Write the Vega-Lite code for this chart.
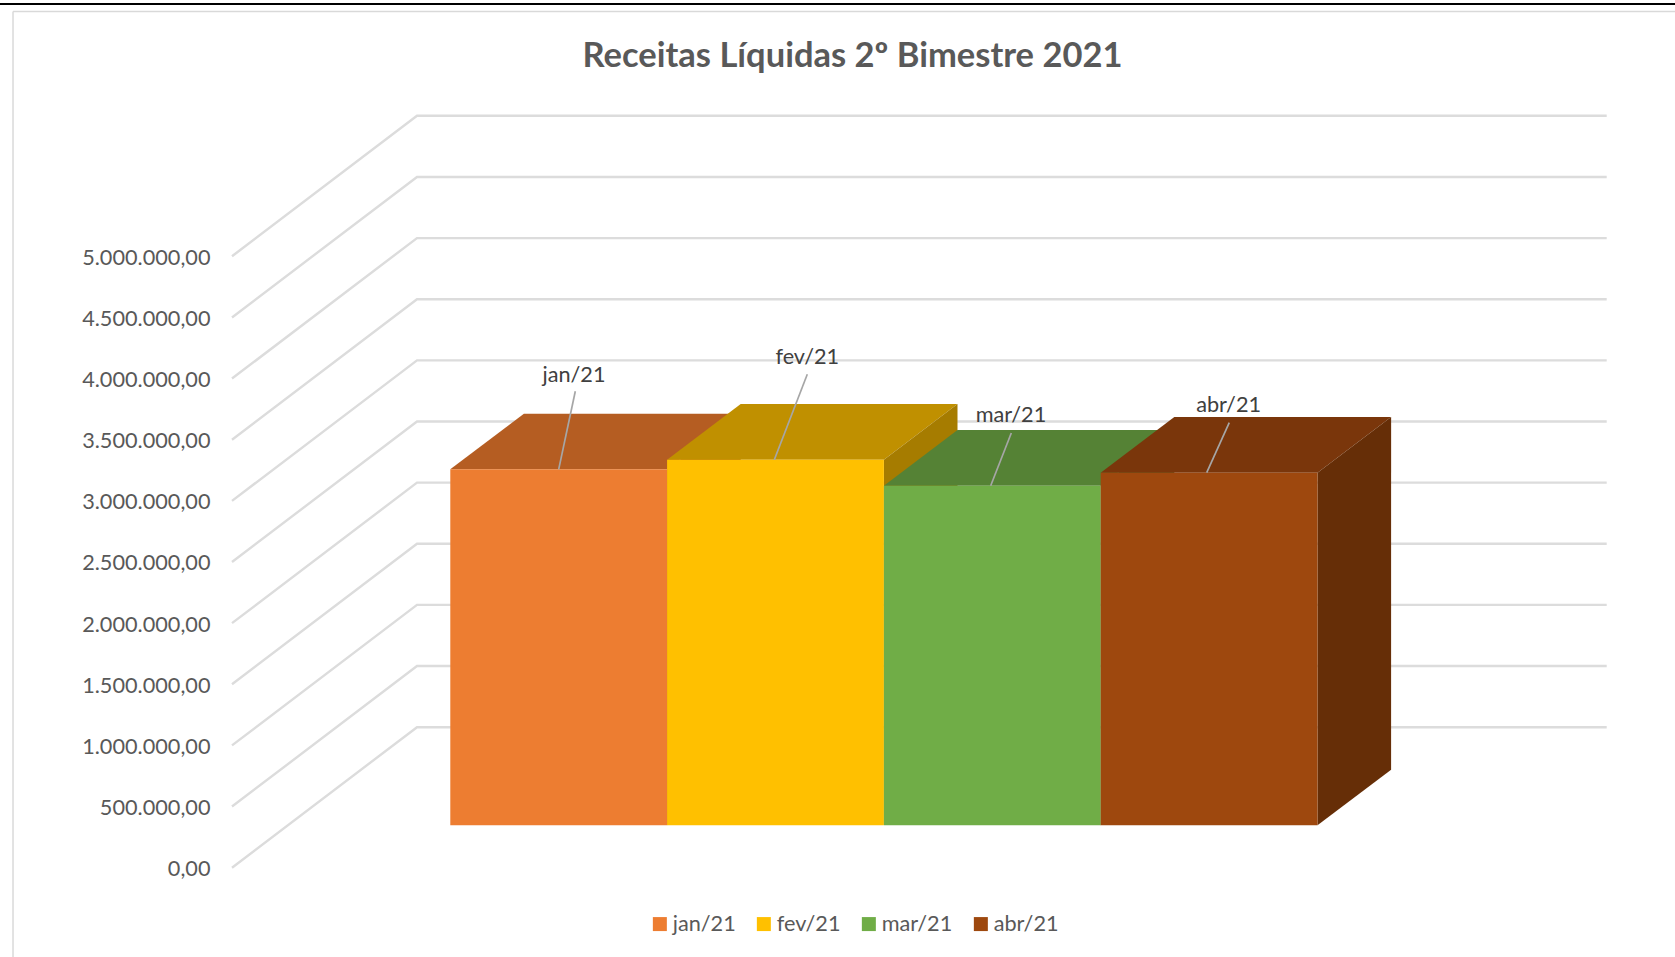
{
"$schema":"https://vega.github.io/schema/vega-lite/v6.json",
"width":1675,"height":957,"padding":0,"autosize":{"type":"none"},"background":"white",
"title":{"text":"Receitas Líquidas 2º Bimestre 2021","font":"Lato","fontSize":34.5,"fontWeight":"bold","color":"#595959","anchor":"middle","frame":"group","dx":15,"offset":-101,"baseline":"alphabetic"},
"config":{"view":{"stroke":null},"locale":{"number":{"decimal":",","thousands":".","grouping":[3],"currency":["R$ ",""]}}},
"encoding":{
"x":{"field":"x","type":"quantitative","scale":{"domain":[-2.077,5.649],"nice":false,"zero":false},"axis":null},
"y":{"field":"y","type":"quantitative","scale":{"domain":[-730300,7096000],"nice":false,"zero":false},
"axis":{"title":null,"values":[0,500000,1000000,1500000,2000000,2500000,3000000,3500000,4000000,4500000,5000000],"format":",.2f","domain":false,"ticks":false,"grid":false,"offset":-215,"labelPadding":5,"labelOffset":1,"labelFont":"Lato","labelFontSize":21.7,"labelColor":"#595959"}}
},
"layer":[
{"data":{"values":[{"x":-2.017,"x2":-2.017,"y":-730300,"y2":7002000},{"x":-2.017,"x2":5.649,"y":7002000,"y2":7002000}]},
"mark":{"type":"rule","color":"#d9d9d9","strokeWidth":1.5},"encoding":{"x2":{"field":"x2"},"y2":{"field":"y2"}}},
{"data":{"values":[{"x":-2.077,"x2":5.649,"y":7063000}]},
"mark":{"type":"rule","color":"#000000","strokeWidth":2},"encoding":{"x2":{"field":"x2"}}},
{"data":{"values":[
{"nivel":0,"x":-1.0069,"y":0},{"nivel":0,"x":-0.1536,"y":1149000},{"nivel":0,"x":5.334,"y":1149000},
{"nivel":1,"x":-1.0069,"y":500000},{"nivel":1,"x":-0.1536,"y":1649000},{"nivel":1,"x":5.334,"y":1649000},
{"nivel":2,"x":-1.0069,"y":1000000},{"nivel":2,"x":-0.1536,"y":2149000},{"nivel":2,"x":5.334,"y":2149000},
{"nivel":3,"x":-1.0069,"y":1500000},{"nivel":3,"x":-0.1536,"y":2649000},{"nivel":3,"x":5.334,"y":2649000},
{"nivel":4,"x":-1.0069,"y":2000000},{"nivel":4,"x":-0.1536,"y":3149000},{"nivel":4,"x":5.334,"y":3149000},
{"nivel":5,"x":-1.0069,"y":2500000},{"nivel":5,"x":-0.1536,"y":3649000},{"nivel":5,"x":5.334,"y":3649000},
{"nivel":6,"x":-1.0069,"y":3000000},{"nivel":6,"x":-0.1536,"y":4149000},{"nivel":6,"x":5.334,"y":4149000},
{"nivel":7,"x":-1.0069,"y":3500000},{"nivel":7,"x":-0.1536,"y":4649000},{"nivel":7,"x":5.334,"y":4649000},
{"nivel":8,"x":-1.0069,"y":4000000},{"nivel":8,"x":-0.1536,"y":5149000},{"nivel":8,"x":5.334,"y":5149000},
{"nivel":9,"x":-1.0069,"y":4500000},{"nivel":9,"x":-0.1536,"y":5649000},{"nivel":9,"x":5.334,"y":5649000},
{"nivel":10,"x":-1.0069,"y":5000000},{"nivel":10,"x":-0.1536,"y":6149000},{"nivel":10,"x":5.334,"y":6149000}
]},
"mark":{"type":"line","color":"#dcdcdc","strokeWidth":2.4},"encoding":{"detail":{"field":"nivel"}}},
{"data":{"values":[
{"face":"jan topo","x":0,"y":3258000,"y2":3258000},{"face":"jan topo","x":0.3395,"y":3258000,"y2":3712700},{"face":"jan topo","x":1,"y":3258000,"y2":3712700},{"face":"jan topo","x":1.3395,"y":3712700,"y2":3712700},
{"face":"jan lado","x":1,"y":346700,"y2":3258000},{"face":"jan lado","x":1.3395,"y":801400,"y2":3712700},
{"face":"fev topo","x":1,"y":3336600,"y2":3336600},{"face":"fev topo","x":1.3395,"y":3336600,"y2":3791300},{"face":"fev topo","x":2,"y":3336600,"y2":3791300},{"face":"fev topo","x":2.3395,"y":3791300,"y2":3791300},
{"face":"fev lado","x":2,"y":346700,"y2":3336600},{"face":"fev lado","x":2.3395,"y":801400,"y2":3791300},
{"face":"mar topo","x":2,"y":3124000,"y2":3124000},{"face":"mar topo","x":2.3395,"y":3124000,"y2":3578700},{"face":"mar topo","x":3,"y":3124000,"y2":3578700},{"face":"mar topo","x":3.3395,"y":3578700,"y2":3578700},
{"face":"mar lado","x":3,"y":346700,"y2":3124000},{"face":"mar lado","x":3.3395,"y":801400,"y2":3578700},
{"face":"abr topo","x":3,"y":3230300,"y2":3230300},{"face":"abr topo","x":3.3395,"y":3230300,"y2":3685000},{"face":"abr topo","x":4,"y":3230300,"y2":3685000},{"face":"abr topo","x":4.3395,"y":3685000,"y2":3685000},
{"face":"abr lado","x":4,"y":346700,"y2":3230300},{"face":"abr lado","x":4.3395,"y":801400,"y2":3685000}
]},
"mark":{"type":"area","opacity":1,"interpolate":"linear"},
"encoding":{"y2":{"field":"y2"},"color":{"field":"face","type":"nominal","legend":null,"scale":{"domain":["jan topo","jan lado","fev topo","fev lado","mar topo","mar lado","abr topo","abr lado"],"range":["#B55D22","#A0521C","#C09000","#A67C00","#558235","#4A7330","#7A360B","#662E07"]}}}},
{"data":{"values":[
{"mes":"jan/21","x":0,"x2":1,"y":346700,"y2":3258000},
{"mes":"fev/21","x":1,"x2":2,"y":346700,"y2":3336600},
{"mes":"mar/21","x":2,"x2":3,"y":346700,"y2":3124000},
{"mes":"abr/21","x":3,"x2":4,"y":346700,"y2":3230300}
]},
"mark":{"type":"rect"},
"encoding":{"x2":{"field":"x2"},"y2":{"field":"y2"},
"color":{"field":"mes","type":"nominal","sort":null,"scale":{"domain":["jan/21","fev/21","mar/21","abr/21"],"range":["#ED7D31","#FFC000","#70AD47","#9E480E"]},
"legend":{"title":null,"orient":"none","legendX":649,"legendY":913,"direction":"horizontal","columns":4,"symbolType":"square","symbolSize":196,"symbolStrokeWidth":0,"symbolOpacity":1,"columnPadding":17,"labelOffset":2,"labelFont":"Lato","labelFontSize":21.7,"labelColor":"#595959","labelLimit":200}}}},
{"data":{"values":[
{"x":0.5,"x2":0.5766,"y":3258000,"y2":3896000},
{"x":1.4945,"x2":1.6467,"y":3336600,"y2":4035000},
{"x":2.4926,"x2":2.5877,"y":3124000,"y2":3555000},
{"x":3.489,"x2":3.593,"y":3230300,"y2":3639000}
]},
"mark":{"type":"rule","color":"#a6a6a6","strokeWidth":1.7},"encoding":{"x2":{"field":"x2"},"y2":{"field":"y2"}}},
{"data":{"values":[
{"rotulo":"jan/21","x":0.5706,"y":3975000},
{"rotulo":"fev/21","x":1.6467,"y":4119000},
{"rotulo":"mar/21","x":2.586,"y":3645000},
{"rotulo":"abr/21","x":3.59,"y":3724000}
]},
"mark":{"type":"text","font":"Lato","fontSize":21.7,"color":"#404040","align":"center","baseline":"alphabetic"},
"encoding":{"text":{"field":"rotulo"}}}
],
"resolve":{"scale":{"color":"independent"}}
}
